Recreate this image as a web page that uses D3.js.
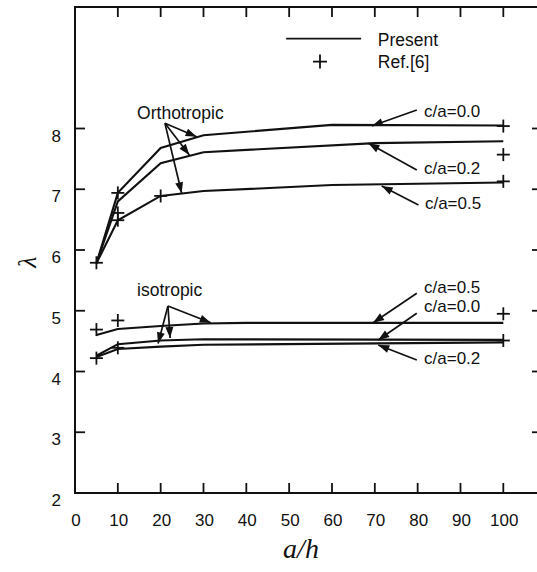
<!DOCTYPE html>
<html><head><meta charset="utf-8">
<script src="https://cdn.jsdelivr.net/npm/d3@7"></script>
<style>
body{margin:0;background:#fff;}
text{font-family:"Liberation Sans",Arial,Helvetica,sans-serif;fill:#111;}
</style></head>
<body><svg id="c" width="537" height="572"></svg>
<script>
// ---- data ----
const xTicks = [0,10,20,30,40,50,60,70,80,90,100];
const yTicks = [2,3,4,5,6,7,8];
const yInnerTicks = [3,4,5,6,7,8];

// Present (lines): [a/h, lambda]
const orthoC00 = [[5,5.78],[10,6.94],[20,7.68],[30,7.89],[60,8.06],[100,8.05]];
const orthoC02 = [[5,5.78],[10,6.80],[20,7.43],[30,7.61],[70,7.76],[100,7.79]];
const orthoC05 = [[5,5.78],[10,6.49],[20,6.89],[30,6.97],[60,7.07],[100,7.11]];
const isoC05   = [[5,4.60],[10,4.70],[20,4.75],[30,4.79],[40,4.80],[100,4.80]];
const isoC00   = [[5,4.26],[10,4.45],[20,4.51],[30,4.53],[100,4.52]];
const isoC02   = [[5,4.24],[10,4.37],[20,4.41],[30,4.44],[100,4.48]];

// Ref.[6] (plus markers)
const refOrtho = [[5,5.79],[10,6.94],[10,6.61],[10,6.49],[20,6.89],[100,8.04],[100,7.57],[100,7.13]];
const refIso   = [[5,4.69],[5,4.22],[10,4.84],[10,4.39],[100,4.95],[100,4.51]];

// annotations (data units)
const groupLabels = [
  {text:"Orthotropic", x:14.5, y:8.156, apex:[21.0,8.085], tips:[[28.4,7.865],[26.7,7.564],[24.9,6.933]]},
  {text:"isotropic",   x:14.5, y:5.243, apex:[21.7,5.078], tips:[[31.7,4.803],[22.2,4.551],[19.4,4.461]]}
];
const caLabels = [
  {text:"c/a=0.0", x:81.5, y:8.197, from:[79.8,8.305], to:[69.3,8.041]},
  {text:"c/a=0.2", x:81.5, y:7.251, from:[79.8,7.317], to:[68.5,7.756]},
  {text:"c/a=0.5", x:81.7, y:6.675, from:[80.2,6.741], to:[71.6,7.054]},
  {text:"c/a=0.5", x:81.5, y:5.290, from:[79.8,5.287], to:[69.6,4.803]},
  {text:"c/a=0.0", x:81.5, y:4.985, from:[79.8,4.958], to:[70.8,4.518]},
  {text:"c/a=0.2", x:81.5, y:4.123, from:[79.8,4.189], to:[70.8,4.436]}
];

// ---- chart ----
const svg = d3.select("#c");
const xMax = 108.8;
const x = d3.scaleLinear().domain([0,xMax]).range([75,541]);
const y = d3.scaleLinear().domain([2,10]).range([493,7]);

// frame
svg.append("rect").attr("x",x(0)).attr("y",y(10)).attr("width",x(xMax)-x(0)).attr("height",y(2)-y(10))
  .attr("fill","none").attr("stroke","#111").attr("stroke-width",2);

// ticks (inward)
const tg = svg.append("g").attr("stroke","#111").attr("stroke-width",1.8);
xTicks.filter(d=>d>0).forEach(d=>{
  tg.append("line").attr("x1",x(d)).attr("x2",x(d)).attr("y1",y(2)).attr("y2",y(2)-10);
  tg.append("line").attr("x1",x(d)).attr("x2",x(d)).attr("y1",y(10)).attr("y2",y(10)+10);
});
yInnerTicks.forEach(d=>{
  tg.append("line").attr("x1",x(0)).attr("x2",x(0)+10).attr("y1",y(d)).attr("y2",y(d));
  tg.append("line").attr("x1",x(xMax)).attr("x2",x(xMax)-9).attr("y1",y(d)).attr("y2",y(d));
});

// tick labels
svg.append("g").selectAll("text").data(xTicks).join("text")
  .attr("x",d=>x(d)+1).attr("y",526).attr("text-anchor","middle").attr("font-size",17).text(d=>d);
svg.append("g").selectAll("text").data(yTicks).join("text")
  .attr("x",61).attr("y",d=>y(d)+13).attr("text-anchor","end").attr("font-size",17).text(d=>d);

// axis titles
svg.append("text").attr("x",301).attr("y",558).attr("text-anchor","middle")
  .style("font-family","'Liberation Serif','DejaVu Serif',serif").style("font-style","italic")
  .attr("font-size",28).text("a/h");
svg.append("text").attr("transform","translate(36,262) rotate(-90)").attr("text-anchor","middle")
  .style("font-family","'Liberation Serif','DejaVu Serif',serif").style("font-style","italic")
  .attr("font-size",26).text("λ");

// lines
const line = d3.line().x(d=>x(d[0])).y(d=>y(d[1]));
[orthoC00,orthoC02,orthoC05,isoC05,isoC00,isoC02].forEach(s=>{
  svg.append("path").attr("d",line(s)).attr("fill","none").attr("stroke","#111").attr("stroke-width",2.1);
});

// plus markers
function plus(g,cx,cy,r){
  g.append("line").attr("x1",cx-r).attr("x2",cx+r).attr("y1",cy).attr("y2",cy);
  g.append("line").attr("x1",cx).attr("x2",cx).attr("y1",cy-r).attr("y2",cy+r);
}
const pg = svg.append("g").attr("stroke","#111").attr("stroke-width",1.8);
refOrtho.concat(refIso).forEach(d=>plus(pg,x(d[0]),y(d[1]),6.5));

// arrows
function arrow(g,x1,y1,x2,y2){
  g.append("line").attr("x1",x1).attr("y1",y1).attr("x2",x2).attr("y2",y2)
    .attr("stroke","#111").attr("stroke-width",1.7);
  const a = Math.atan2(y2-y1,x2-x1), L=11, W=4;
  const bx = x2-L*Math.cos(a), by = y2-L*Math.sin(a);
  const px = -Math.sin(a)*W, py = Math.cos(a)*W;
  g.append("path").attr("d",`M${x2},${y2}L${bx+px},${by+py}L${bx-px},${by-py}Z`).attr("fill","#111");
}
const ag = svg.append("g");
groupLabels.forEach(g=>{
  ag.append("text").attr("x",x(g.x)).attr("y",y(g.y)).attr("font-size",17.5).text(g.text);
  g.tips.forEach(t=>arrow(ag,x(g.apex[0]),y(g.apex[1]),x(t[0]),y(t[1])));
});
caLabels.forEach(c=>{
  ag.append("text").attr("x",x(c.x)).attr("y",y(c.y)).attr("font-size",17).text(c.text);
  arrow(ag,x(c.from[0]),y(c.from[1]),x(c.to[0]),y(c.to[1]));
});

// legend
const lg = svg.append("g");
lg.append("line").attr("x1",x(49.3)).attr("x2",x(66.8)).attr("y1",y(9.478)).attr("y2",y(9.478))
  .attr("stroke","#111").attr("stroke-width",1.8);
plus(lg.append("g").attr("stroke","#111").attr("stroke-width",1.8),x(57.2),y(9.101),7);
lg.append("text").attr("x",x(70.7)).attr("y",y(9.358)).attr("font-size",17.5).text("Present");
lg.append("text").attr("x",x(70.7)).attr("y",y(9.004)).attr("font-size",17.5).text("Ref.[6]");
</script></body></html>
